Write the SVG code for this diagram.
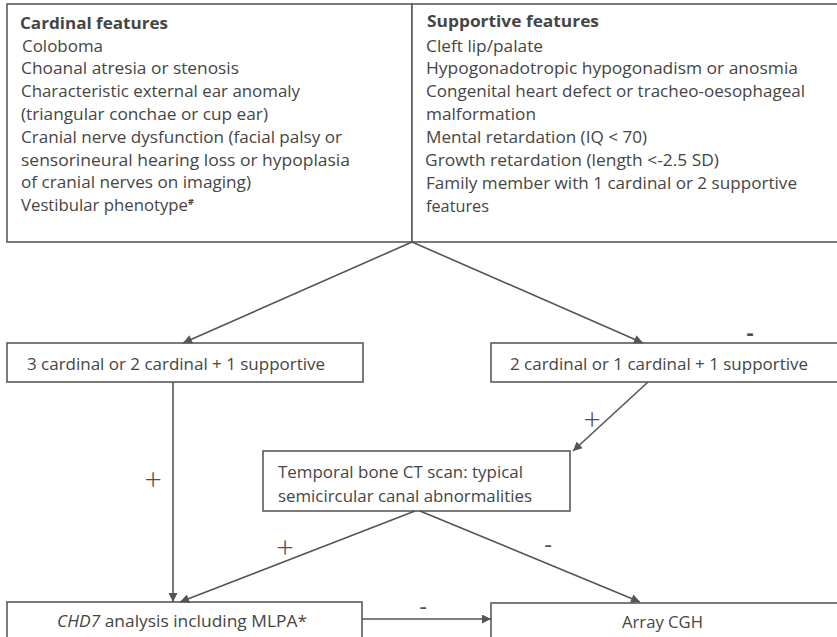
<svg xmlns="http://www.w3.org/2000/svg" width="837" height="637" viewBox="0 0 837 637">
<defs>
<marker id="ah" viewBox="0 0 10 10" refX="10" refY="5" markerWidth="11" markerHeight="9" markerUnits="userSpaceOnUse" orient="auto">
<path d="M0,0 L10,5 L0,10 z" fill="#555"/>
</marker>
<style>
.box{fill:#fff;stroke:#5a5a5a;stroke-width:1.6}
.t{font-family:"Open Sans","Noto Sans","DejaVu Sans",sans-serif;font-size:15.5px;fill:#454545}
.b{font-weight:bold}
.ln{stroke:#555;stroke-width:1.6;fill:none;marker-end:url(#ah)}
.s{font-family:"Open Sans","Noto Sans","DejaVu Sans",sans-serif;font-size:31px;font-weight:300;fill:#505050;text-anchor:middle}
.d{font-family:"Open Sans","Noto Sans","DejaVu Sans",sans-serif;font-size:24px;font-weight:normal;fill:#505050;text-anchor:middle}
</style>
</defs>
<rect width="837" height="637" fill="#fff"/>
<g id="cardinal">
<rect class="box" x="7" y="4" width="405" height="238"/>
<text class="t b" x="20" y="29" textLength="148" lengthAdjust="spacingAndGlyphs">Cardinal features</text>
<text class="t" x="22" y="52" textLength="81" lengthAdjust="spacingAndGlyphs">Coloboma</text>
<text class="t" x="21" y="74" textLength="218" lengthAdjust="spacingAndGlyphs">Choanal atresia or stenosis</text>
<text class="t" x="21" y="97" textLength="279" lengthAdjust="spacingAndGlyphs">Characteristic external ear anomaly</text>
<text class="t" x="21" y="120" textLength="247" lengthAdjust="spacingAndGlyphs">(triangular conchae or cup ear)</text>
<text class="t" x="21" y="143" textLength="321" lengthAdjust="spacingAndGlyphs">Cranial nerve dysfunction (facial palsy or</text>
<text class="t" x="21" y="166" textLength="329" lengthAdjust="spacingAndGlyphs">sensorineural   hearing loss or hypoplasia</text>
<text class="t" x="21" y="188" textLength="230" lengthAdjust="spacingAndGlyphs">of cranial nerves on imaging)</text>
<text class="t" x="21" y="211"><tspan textLength="167" lengthAdjust="spacingAndGlyphs">Vestibular phenotype</tspan><tspan font-size="9" font-weight="bold" dy="-6">#</tspan></text>
</g>
<g id="supportive">
<rect class="box" x="412" y="4" width="430" height="238"/>
<text class="t b" x="427" y="27" textLength="172" lengthAdjust="spacingAndGlyphs">Supportive features</text>
<text class="t" x="426" y="52" textLength="117" lengthAdjust="spacingAndGlyphs">Cleft lip/palate</text>
<text class="t" x="426" y="74" textLength="372" lengthAdjust="spacingAndGlyphs">Hypogonadotropic hypogonadism or anosmia</text>
<text class="t" x="426" y="97" textLength="379" lengthAdjust="spacingAndGlyphs">Congenital heart defect or tracheo-oesophageal</text>
<text class="t" x="426" y="120" textLength="110" lengthAdjust="spacingAndGlyphs">malformation</text>
<text class="t" x="426" y="143" textLength="221" lengthAdjust="spacingAndGlyphs">Mental retardation (IQ &lt; 70)</text>
<text class="t" x="425" y="166" textLength="294" lengthAdjust="spacingAndGlyphs">Growth retardation (length &lt;-2.5 SD)</text>
<text class="t" x="426" y="189" textLength="371" lengthAdjust="spacingAndGlyphs">Family member with 1 cardinal or 2 supportive</text>
<text class="t" x="426" y="212" textLength="63" lengthAdjust="spacingAndGlyphs">features</text>
</g>
<g id="three-cardinal">
<rect class="box" x="7" y="343" width="356" height="39"/>
<text class="t" x="27" y="370" textLength="298" lengthAdjust="spacingAndGlyphs">3 cardinal or 2 cardinal + 1 supportive</text>
</g>
<g id="two-cardinal">
<rect class="box" x="491" y="343" width="350" height="39"/>
<text class="t" x="510" y="370" textLength="298" lengthAdjust="spacingAndGlyphs">2 cardinal or 1 cardinal + 1 supportive</text>
</g>
<g id="temporal-ct">
<rect class="box" x="263" y="451" width="307" height="60"/>
<text class="t" x="278" y="478" textLength="245" lengthAdjust="spacingAndGlyphs">Temporal bone CT scan: typical</text>
<text class="t" x="278" y="502" textLength="254" lengthAdjust="spacingAndGlyphs">semicircular canal abnormalities</text>
</g>
<g id="chd7">
<rect class="box" x="7" y="602" width="355" height="50"/>
<text class="t" x="57" y="627" textLength="250" lengthAdjust="spacingAndGlyphs"><tspan font-style="italic">CHD7</tspan> analysis including MLPA*</text>
</g>
<g id="array-cgh">
<rect class="box" x="491" y="603" width="350" height="50"/>
<text class="t" x="622" y="628" textLength="81" lengthAdjust="spacingAndGlyphs">Array CGH</text>
</g>
<g id="connectors">
<line class="ln" x1="412" y1="242" x2="183" y2="343"/>
<line class="ln" x1="412" y1="242" x2="643" y2="343"/>
<line class="ln" x1="648" y1="382" x2="573" y2="451"/>
<line class="ln" x1="173" y1="382" x2="173" y2="602"/>
<line class="ln" x1="415" y1="511" x2="180" y2="602"/>
<line class="ln" x1="420" y1="511" x2="640" y2="602"/>
<line class="ln" x1="362" y1="619" x2="491" y2="619"/>
<text class="s" x="153" y="491">+</text>
<text class="s" x="592" y="431">+</text>
<text class="s" x="285" y="559">+</text>
<text class="d" x="548" y="553">-</text>
<text class="d" x="423" y="615">-</text>
<text class="d" x="750" y="340" style="font-weight:bold;font-size:22px">-</text>
</g>
</svg>
